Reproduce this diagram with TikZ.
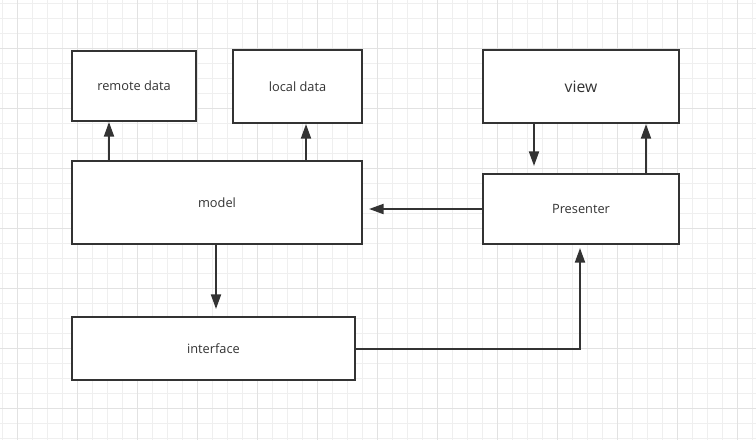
\documentclass[tikz,border=0pt]{standalone}
\usepackage{fontspec}
\setmainfont{Open Sans}
\usetikzlibrary{arrows.meta,calc}
\definecolor{ink}{HTML}{333333}
\definecolor{gridminor}{HTML}{EFEFEF}
\definecolor{gridmajor}{HTML}{E2E2E2}
\tikzset{
  box/.style={draw=ink, line width=1.5pt, fill=white, inner sep=0pt,
    text=ink, font=\fontsize{9.6pt}{11pt}\selectfont},
  arr/.style={draw=ink, line width=1.5pt,
    -{Triangle[length=11pt, width=7.5pt]}},
}
\begin{document}
\begin{tikzpicture}[x=0.75pt, y=-0.75pt]
  % canvas and grid (1 unit = 1 px, y pointing down)
  \fill[white] (0,0) rectangle (756,440);
  \useasboundingbox (0,0) rectangle (756,440);
  \begin{scope}[line width=0.75pt]
    \foreach \x in {2.3,17.3,...,756} \draw[gridminor] (\x,0) -- (\x,440);
    \foreach \y in {3.3,18.3,...,440} \draw[gridminor] (0,\y) -- (756,\y);
    \foreach \x in {17.3,77.3,...,756} \draw[gridmajor] (\x,0) -- (\x,440);
    \foreach \y in {48.3,108.3,...,440} \draw[gridmajor] (0,\y) -- (756,\y);
  \end{scope}

  % boxes
  \node[box, minimum width=93pt,  minimum height=52.5pt]  (remote)    at (134,86)     {remote data};
  \node[box, minimum width=96.75pt, minimum height=54.75pt] (local)   at (297.5,86.5) {local data};
  \node[box, minimum width=147pt, minimum height=54.75pt, font=\fontsize{11.8pt}{14pt}\selectfont]
                                                           (view)      at (581,86.5)   {view};
  \node[box, minimum width=217.5pt, minimum height=62.25pt] (model)   at (217,202.5)  {model};
  \node[box, minimum width=147pt, minimum height=52.5pt]  (presenter) at (581,209)    {Presenter};
  \node[box, minimum width=212.25pt, minimum height=47.25pt] (interface) at (213.5,348.5) {interface};

  % anchor points along the box edges
  \coordinate (ra) at ($(remote.south west)+(38,0)$);
  \coordinate (la) at ($(local.south west)+(74,0)$);
  \coordinate (vd) at ($(view.south west)+(52,0)$);
  \coordinate (pu) at ($(presenter.north west)+(164,0)$);
  \coordinate (md) at ($(model.south west)+(145,0)$);
  \coordinate (pb) at ($(presenter.south west)+(98,0)$);

  % connectors
  \draw[arr] (ra |- model.north) -- (ra);
  \draw[arr] (la |- model.north) -- (la);
  \draw[arr, shorten >=5.25pt] (vd) -- (vd |- presenter.north);
  \draw[arr] (pu) -- (pu |- view.south);
  \draw[arr, shorten >=4.5pt] (presenter.west) -- (model.east |- presenter.west);
  \draw[arr, shorten >=5.25pt] (md) -- (md |- interface.north);
  \draw[arr, shorten >=2.25pt] (interface.east) -- (interface.east -| pb) -- (pb);
\end{tikzpicture}
\end{document}
